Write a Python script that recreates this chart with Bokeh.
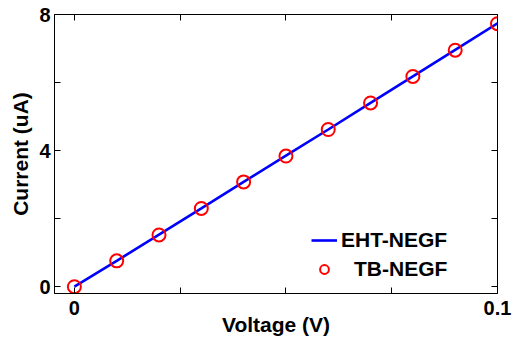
from bokeh.plotting import figure
from bokeh.models import Range1d, FixedTicker, LinearAxis, Legend, LegendItem
from bokeh.embed import file_html
from bokeh.resources import INLINE

voltage = [0.0, 0.01, 0.02, 0.03, 0.04, 0.05, 0.06, 0.07, 0.08, 0.09, 0.1]
current_eht = [0.0, 0.76, 1.53, 2.30, 3.08, 3.85, 4.62, 5.40, 6.18, 6.96, 7.74]
current_tb = [0.0, 0.76, 1.52, 2.30, 3.08, 3.84, 4.62, 5.40, 6.18, 6.95, 7.73]

x_major = [0, 0.1]
x_minor = [0.025, 0.05, 0.075]
y_major = [0, 4, 8]
y_minor = [2, 6]

FONT = "Liberation Sans"

p = figure(width=514, height=343, output_backend="svg", toolbar_location=None,
           x_range=Range1d(-0.0047, 0.1), y_range=Range1d(-0.2, 8),
           min_border_left=54, min_border_right=17, min_border_top=14, min_border_bottom=50,
           background_fill_color="white", border_fill_color="white")
p.grid.visible = False
p.outline_line_color = "black"
p.outline_line_width = 1

ln = p.line(voltage, current_eht, line_color="#0000ff", line_width=2.6)
sc = p.scatter(voltage, current_tb, marker="circle", size=13, fill_color=None,
               line_color="#ff0000", line_width=2)

def style(ax):
    ax.axis_line_color = "black"
    ax.major_tick_in = 6
    ax.major_tick_out = 0
    ax.minor_tick_in = 6
    ax.minor_tick_out = 0
    ax.minor_tick_line_color = "black"
    ax.major_tick_line_color = "black"
    ax.major_label_text_font = FONT
    ax.major_label_text_font_style = "bold"
    ax.major_label_text_font_size = "20px"
    ax.major_label_text_color = "black"
    ax.axis_label_text_font = FONT
    ax.axis_label_text_font_style = "bold"
    ax.axis_label_text_font_size = "21px"
    ax.axis_label_text_color = "black"

xa = p.xaxis[0]
xa.ticker = FixedTicker(ticks=x_major, minor_ticks=x_minor)
style(xa)
xa.major_label_standoff = 7
xa.axis_label = "Voltage (V)"
xa.axis_label_standoff = -5

ya = p.yaxis[0]
ya.ticker = FixedTicker(ticks=y_major, minor_ticks=y_minor)
style(ya)
ya.major_label_standoff = 4
ya.axis_label = "Current (uA)"
ya.axis_label_standoff = 4

top = LinearAxis(ticker=FixedTicker(ticks=[], minor_ticks=x_major + x_minor))
style(top)
top.major_label_standoff = 0
p.add_layout(top, "above")

right = LinearAxis(ticker=FixedTicker(ticks=[], minor_ticks=y_major + y_minor))
style(right)
right.major_label_standoff = 0
p.add_layout(right, "right")

common = dict(border_line_color=None, background_fill_alpha=0, label_text_font=FONT,
              label_text_font_style="bold", label_text_font_size="21px",
              label_text_color="black", glyph_width=26, glyph_height=22,
              label_height=22, padding=0, margin=0, spacing=0)
leg1 = Legend(items=[LegendItem(label="EHT-NEGF", renderers=[ln])],
              location=(257, 41), label_standoff=4, **common)
leg2 = Legend(items=[LegendItem(label="TB-NEGF", renderers=[sc])],
              location=(257, 12), label_standoff=17, **common)
p.add_layout(leg1, "center")
p.add_layout(leg2, "center")

open("out.html", "w").write(file_html(p, INLINE))
